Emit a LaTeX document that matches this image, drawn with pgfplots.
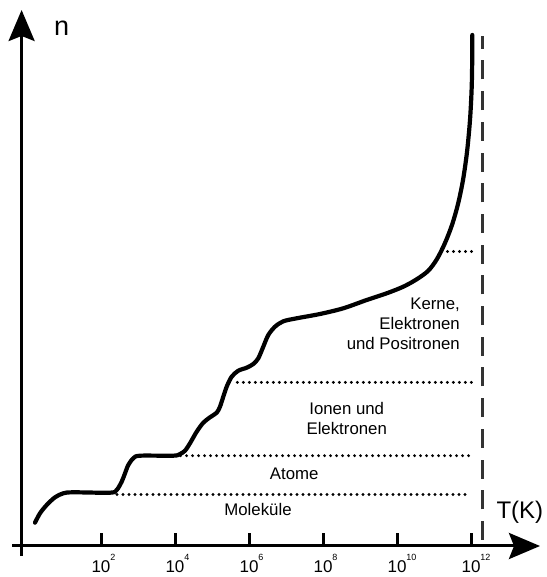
\documentclass[border=0pt]{standalone}
\usepackage{fontspec}
\setmainfont{Liberation Sans}
\usepackage{pgfplots}
\usepackage{pgfplotstable}
\pgfplotsset{compat=1.18}
\usetikzlibrary{arrows.meta}

% curve: x = log10(T/K), y = n (arbitrary units)
\pgfplotstableread{
logT n
0.216 23.3
0.351 32.7
0.532 41
0.757 48.7
0.981 52.7
1.251 53.7
2.243 53.3
2.424 56
2.559 64.3
2.649 72.7
2.738 81
2.873 87.7
3.054 90.3
3.954 90.3
4.135 92
4.270 95.3
4.405 102.7
4.586 114.3
4.765 123.3
4.946 128.7
5.127 133.3
5.216 139.3
5.305 149.3
5.397 159.3
5.532 169.3
5.711 175.3
5.938 178.3
6.116 182
6.251 187.7
6.386 199.3
6.522 211
6.703 219.3
6.927 224.7
7.289 227.7
7.919 232
8.549 237.7
9.181 246
9.722 252.7
10.170 259.3
10.532 266.7
10.846 275.3
11.081 287
11.297 303
11.486 321
11.649 342
11.784 366
11.892 394
11.973 426
12.019 459
12.035 493
12.035 511
}\curve

\newcommand{\tl}[1]{10\rlap{\raisebox{12.3pt}{\fontsize{9}{9}\selectfont #1}}}

\begin{document}
\begin{tikzpicture}
\begin{axis}[
  x=37pt, y=1pt,
  xmin=-0.146, xmax=13.865, ymin=0, ymax=536,
  axis lines=left,
  axis line style={line width=3pt, black, -{Stealth[length=31pt,width=26pt,inset=5pt]}},
  x axis line style={shorten <=-9.5pt},
  y axis line style={shorten <=-10pt},
  xtick={2,4,6,8,10,12},
  xticklabels={\tl{2},\tl{4},\tl{6},\tl{8},\tl{10},\tl{12}},
  ytick=\empty,
  tick align=inside,
  major tick length=13pt,
  tick style={line width=3pt, black},
  xticklabel style={anchor=base, yshift=-26.3pt, inner sep=0pt, font=\fontsize{17}{17}\selectfont},
  clip=false,
]
\addplot[line width=4.2pt, black, smooth, line cap=round, line join=round] table[x=logT,y=n]{\curve};

\pgfplotsset{dotline/.style={line width=3.2pt, black, line cap=round, dash pattern=on 0pt off 6pt}}
\addplot[dotline] coordinates {(2.43,51.5) (11.973,51.5)};
\addplot[dotline] coordinates {(4.15,90.3) (11.973,90.3)};
\addplot[dotline] coordinates {(5.684,163.6) (12.05,163.6)};
\addplot[dotline] coordinates {(11.2,294.5) (12.03,294.5)};
\addplot[line width=3pt, black!80, dash pattern=on 19pt off 11.7pt] coordinates {(12.316,6) (12.316,510)};

\node[anchor=base west, inner sep=0pt, font=\fontsize{27}{27}\selectfont] at (axis cs:0.730,510) {n};
\node[anchor=base west, inner sep=0pt, font=\fontsize{24}{24}\selectfont] at (axis cs:12.684,27.7) {T(K)};

\begin{scope}[every node/.style={inner sep=0pt, font=\fontsize{16.8}{16.8}\selectfont}]
\node[anchor=base] at (axis cs:6.243,30) {Moleküle};
\node[anchor=base] at (axis cs:7.222,66) {Atome};
\node[anchor=base] at (axis cs:8.641,131) {Ionen und};
\node[anchor=base] at (axis cs:8.641,111) {Elektronen};
\node[anchor=base east] at (axis cs:11.703,236.7) {Kerne,};
\node[anchor=base east] at (axis cs:11.703,216.5) {Elektronen};
\node[anchor=base east] at (axis cs:11.703,196.5) {und Positronen};
\end{scope}

\coordinate (bbSW) at (axis cs:-0.7297,-31);
\coordinate (bbNE) at (axis cs:14.027,546);
\end{axis}
\pgfresetboundingbox
\path[use as bounding box] (bbSW) rectangle (bbNE);
\end{tikzpicture}
\end{document}
